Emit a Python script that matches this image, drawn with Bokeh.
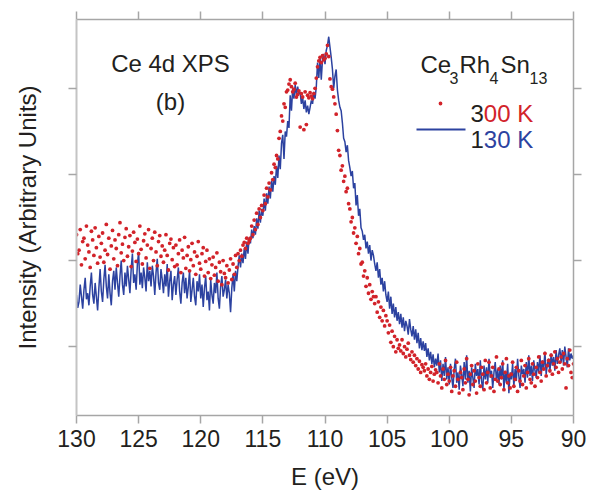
from bokeh.plotting import figure
from bokeh.models import Range1d, LinearAxis, FixedTicker, Label, CustomJSTickFormatter
from bokeh.embed import file_html
from bokeh.resources import INLINE
import numpy as np

# ---------------- data ----------------
E_START = 130.0
E_STEP = 0.1

# 130 K spectrum (blue line), one row per eV from 130 eV downwards
i_130K = [
    1.60, 1.45, 1.52, 1.72, 1.58, 1.44, 1.66, 1.80, 1.55, 1.62,
    1.48, 1.70, 1.86, 1.60, 1.50, 1.74, 1.58, 1.42, 1.68, 1.90,
    1.64, 1.52, 1.78, 1.95, 1.70, 1.56, 1.84, 1.62, 1.48, 1.76,
    1.88, 1.66, 1.92, 1.74, 1.58, 1.82, 2.00, 1.72, 1.60, 1.86,
    1.70, 1.94, 1.78, 1.62, 1.90, 2.08, 1.74, 1.84, 1.66, 1.96,
    2.10, 1.72, 1.86, 1.68, 1.92, 1.80, 1.64, 1.98, 1.76, 1.88,
    1.70, 1.94, 1.82, 1.60, 1.86, 2.02, 1.74, 1.66, 1.90, 1.78,
    1.62, 1.84, 1.70, 1.96, 1.58, 1.76, 1.88, 1.54, 1.72, 1.82,
    1.60, 1.78, 1.92, 1.64, 1.50, 1.74, 1.86, 1.62, 1.80, 1.56,
    1.70, 1.88, 1.52, 1.66, 1.80, 1.58, 1.48, 1.76, 1.64, 1.84,
    1.56, 1.72, 1.46, 1.68, 1.82, 1.54, 1.64, 1.42, 1.78, 1.60,
    1.50, 1.74, 1.62, 1.86, 1.56, 1.44, 1.70, 1.82, 1.58, 1.66,
    1.78, 1.56, 1.72, 1.62, 1.40, 1.68, 1.84, 1.64, 1.88, 1.76,
    1.93, 2.06, 1.92, 2.08, 1.97, 2.14, 2.02, 2.22, 2.08, 2.27,
    2.20, 2.36, 2.26, 2.40, 2.30, 2.49, 2.37, 2.58, 2.44, 2.60,
    2.52, 2.72, 2.58, 2.78, 2.66, 2.86, 2.72, 2.93, 2.80, 2.98,
    2.88, 3.10, 2.96, 3.22, 3.06, 3.36, 3.46, 3.18, 3.50, 3.44,
    3.62, 3.54, 3.92, 3.74, 4.00, 3.88, 4.04, 3.92, 4.02, 3.94,
    3.95, 3.82, 3.90, 3.76, 3.86, 3.72, 3.80, 3.70, 3.78, 3.86,
    3.82, 3.96, 3.88, 4.02, 4.30, 4.12, 4.36, 4.10, 4.34, 4.40,
    4.28, 4.44, 4.50, 4.60, 4.48, 4.36, 4.22, 4.00, 4.14, 4.22,
    3.98, 3.86, 3.78, 3.74, 3.60, 3.42, 3.38, 3.26, 3.34, 3.16,
    3.08, 2.98, 3.04, 2.84, 2.90, 2.64, 2.76, 2.52, 2.60, 2.38,
    2.34, 2.24, 2.30, 2.14, 2.22, 2.08, 2.18, 2.00, 2.12, 2.06,
    1.96, 1.88, 1.98, 1.80, 1.90, 1.72, 1.80, 1.64, 1.76, 1.60,
    1.52, 1.64, 1.44, 1.58, 1.38, 1.50, 1.34, 1.46, 1.30, 1.40,
    1.26, 1.38, 1.22, 1.34, 1.18, 1.30, 1.24, 1.14, 1.32, 1.20,
    1.12, 1.24, 1.08, 1.20, 1.04, 1.16, 0.98, 1.10, 0.96, 1.06,
    0.95, 1.04, 0.88, 0.98, 0.84, 0.94, 0.80, 0.91, 0.76, 0.86,
    0.78, 0.92, 0.70, 0.84, 0.60, 0.80, 0.66, 0.88, 0.62, 0.76,
    0.56, 0.80, 0.64, 0.52, 0.74, 0.86, 0.58, 0.70, 0.50, 0.78,
    0.68, 0.54, 0.82, 0.62, 0.90, 0.58, 0.72, 0.48, 0.76, 0.64,
    0.52, 0.80, 0.66, 0.74, 0.56, 0.84, 0.60, 0.50, 0.78, 0.62,
    0.76, 0.58, 0.86, 0.64, 0.72, 0.52, 0.70, 0.82, 0.60, 0.74,
    0.56, 0.78, 0.62, 0.84, 0.50, 0.72, 0.58, 0.80, 0.46, 0.70,
    0.62, 0.80, 0.54, 0.74, 0.60, 0.86, 0.66, 0.52, 0.78, 0.68,
    0.74, 0.58, 0.82, 0.64, 0.90, 0.66, 0.78, 0.60, 0.84, 0.72,
    0.64, 0.82, 0.70, 0.90, 0.66, 0.84, 0.74, 0.94, 0.68, 0.80,
    0.86, 0.70, 0.92, 0.78, 0.88, 0.72, 0.96, 0.80, 0.90, 0.98,
    0.82, 0.96, 0.78, 1.00, 0.88, 0.76, 0.98, 0.84, 0.92, 0.86,
    0.90,
]

# 300 K spectrum (red dots)
i_300K = [
    2.30, 2.08, 2.12, 2.36, 1.95, 2.22, 2.26, 2.02, 2.40, 2.18,
    2.10, 1.92, 2.34, 2.24, 2.06, 2.38, 2.15, 1.97, 2.28, 2.04,
    2.20, 2.32, 1.98, 2.12, 2.42, 2.07, 2.26, 1.90, 2.17, 2.35,
    2.02, 2.24, 2.14, 1.94, 2.30, 2.44, 2.09, 2.19, 2.00, 2.27,
    2.37, 2.05, 2.16, 2.29, 1.93, 2.11, 2.33, 2.21, 1.99, 2.25,
    2.08, 2.40, 2.13, 1.96, 2.23, 2.31, 2.03, 2.18, 2.36, 1.91,
    2.14, 2.26, 2.00, 2.33, 2.10, 1.94, 2.22, 2.29, 2.05, 2.17,
    1.98, 2.12, 2.30, 2.06, 1.89, 2.20, 2.25, 2.01, 2.15, 1.93,
    2.18, 1.95, 2.08, 2.24, 1.86, 2.12, 2.03, 2.27, 1.91, 2.06,
    2.16, 1.88, 2.01, 2.20, 1.94, 2.10, 1.84, 2.05, 2.22, 1.97,
    1.90, 2.08, 2.15, 1.82, 1.99, 2.12, 1.86, 2.02, 1.79, 1.95,
    2.04, 1.83, 1.92, 2.09, 1.76, 1.98, 1.87, 1.72, 2.00, 1.85,
    1.80, 1.94, 1.74, 1.89, 2.02, 1.78, 1.96, 1.84, 2.06, 1.92,
    2.08, 2.00, 2.12, 2.05, 2.18, 2.21, 2.14, 2.26, 2.20, 2.23,
    2.26, 2.40, 2.30, 2.47, 2.36, 2.55, 2.42, 2.60, 2.50, 2.64,
    2.58, 2.76, 2.66, 2.84, 2.74, 2.90, 2.82, 3.02, 2.94, 3.12,
    3.08, 3.22, 3.18, 3.42, 3.50, 3.68, 3.62, 3.82, 3.78, 3.96,
    3.98, 4.05, 4.10, 4.02, 3.96, 3.99, 4.06, 3.90, 3.93, 3.97,
    3.55, 3.94, 3.90, 3.52, 3.96, 3.58, 3.92, 3.89, 3.95, 3.91,
    3.88, 3.94, 4.00, 4.12, 4.25, 4.32, 4.36, 4.30, 4.38, 4.33,
    4.35, 4.40, 4.50, 4.37, 4.11, 4.02, 3.99, 3.90, 3.82, 3.70,
    3.51, 3.28, 3.22, 3.05, 3.10, 2.92, 2.98, 2.80, 2.84, 2.66,
    2.60, 2.45, 2.50, 2.32, 2.38, 2.20, 2.28, 2.08, 2.14, 1.96,
    1.98, 1.82, 1.88, 1.70, 1.80, 1.62, 1.72, 1.55, 1.64, 1.58,
    1.50, 1.58, 1.40, 1.52, 1.34, 1.46, 1.30, 1.42, 1.24, 1.36,
    1.30, 1.16, 1.25, 1.05, 1.18, 1.00, 1.12, 0.94, 1.08, 0.98,
    1.02, 0.95, 1.08, 0.92, 1.00, 0.88, 0.97, 1.04, 0.90, 0.85,
    0.94, 0.82, 0.90, 0.78, 0.86, 0.74, 0.83, 0.70, 0.79, 0.76,
    0.72, 0.80, 0.66, 0.74, 0.62, 0.70, 0.77, 0.60, 0.68, 0.73,
    0.70, 0.58, 0.80, 0.66, 0.52, 0.74, 0.62, 0.84, 0.56, 0.68,
    0.60, 0.76, 0.48, 0.66, 0.72, 0.54, 0.82, 0.62, 0.46, 0.70,
    0.64, 0.50, 0.74, 0.58, 0.86, 0.62, 0.44, 0.68, 0.78, 0.56,
    0.72, 0.60, 0.46, 0.80, 0.64, 0.54, 0.76, 0.68, 0.50, 0.84,
    0.58, 0.70, 0.82, 0.52, 0.66, 0.76, 0.48, 0.62, 0.88, 0.60,
    0.74, 0.56, 0.64, 0.80, 0.50, 0.70, 0.86, 0.58, 0.66, 0.52,
    0.68, 0.82, 0.54, 0.62, 0.76, 0.48, 0.72, 0.60, 0.84, 0.56,
    0.66, 0.78, 0.52, 0.70, 0.86, 0.62, 0.58, 0.80, 0.68, 0.54,
    0.76, 0.64, 0.88, 0.70, 0.60, 0.82, 0.74, 0.92, 0.66, 0.78,
    0.84, 0.72, 0.90, 0.68, 0.80, 0.94, 0.76, 0.86, 0.70, 0.82,
    0.88, 0.74, 0.92, 0.80, 0.52, 0.86, 0.78, 0.96, 0.70, 0.64,
    0.80,
]

x_ticks = [130, 125, 120, 115, 110, 105, 100, 95, 90]
y_ticks = [1, 2, 3, 4]

e_130K = E_START - E_STEP * np.arange(len(i_130K))
e_300K = E_START - E_STEP * np.arange(len(i_300K))

# ---------------- style ----------------
FONT = "Liberation Sans"
TXT = "#231f20"
RED = "#d2232a"
BLUE = "#2c42a0"
AXC = "#a6a6a6"

X0, X1 = 130, 90
Y0, Y1 = 0.2, 4.8
FL, FR, FT, FB = 76, 573, 19, 415  # frame edges in px


def px_x(px):
    return X0 + (px - FL) * (X1 - X0) / (FR - FL)


def px_y(py):
    return Y1 - (py - FT) * (Y1 - Y0) / (FB - FT)


p = figure(width=593, height=492, x_range=Range1d(X0, X1), y_range=Range1d(Y0, Y1),
           output_backend="svg", toolbar_location=None,
           min_border_left=FL, min_border_right=593 - FR,
           min_border_top=FT, min_border_bottom=492 - FB)
p.grid.visible = False
p.outline_line_color = None
p.background_fill_color = "white"
p.border_fill_color = "white"

empty = CustomJSTickFormatter(code="return ''")

xa = p.xaxis[0]
xa.ticker = FixedTicker(ticks=x_ticks)
xa.major_label_text_font = FONT
xa.major_label_text_font_size = "23px"
xa.major_label_text_color = TXT
xa.major_label_standoff = 6
xa.axis_label = "E (eV)"
xa.axis_label_text_font = FONT
xa.axis_label_text_font_size = "24px"
xa.axis_label_text_font_style = "normal"
xa.axis_label_text_color = TXT
xa.axis_label_standoff = 13

ya = p.yaxis[0]
ya.ticker = FixedTicker(ticks=y_ticks)
ya.formatter = empty
ya.major_label_standoff = 0
ya.axis_label = "Intensity (Arbitrary Units)"
ya.axis_label_text_font = FONT
ya.axis_label_text_font_size = "24px"
ya.axis_label_text_font_style = "normal"
ya.axis_label_text_color = TXT
ya.axis_label_standoff = 28

top = LinearAxis(ticker=FixedTicker(ticks=x_ticks), formatter=empty, major_label_standoff=0)
right = LinearAxis(ticker=FixedTicker(ticks=y_ticks), formatter=empty, major_label_standoff=0)
p.add_layout(top, "above")
p.add_layout(right, "right")

for ax in [xa, ya, top, right]:
    ax.axis_line_color = AXC
    ax.axis_line_width = 1.5
    ax.major_tick_line_color = AXC
    ax.major_tick_line_width = 1.5
    ax.major_tick_out = 8
    ax.major_tick_in = 0
    ax.minor_tick_out = 0
    ax.minor_tick_in = 0
ya.axis_line_color = "#c4c4c4"
ya.axis_line_width = 2

p.line(e_130K, i_130K, line_color=BLUE, line_width=1.5)
p.scatter(e_300K, i_300K, size=3.8, fill_color=RED, line_color=None)


def lab(text, px, py, size="24px", color=TXT, align="left"):
    p.add_layout(Label(x=px_x(px), y=px_y(py), text=text, text_font=FONT,
                       text_font_size=size, text_color=color, text_align=align,
                       text_baseline="alphabetic"))


lab("Ce 4d XPS", 170, 63, align="center")
lab("(b)", 170, 101, align="center")

# formula Ce3Rh4Sn13
lab("Ce", 420, 64)
lab("3", 449, 77, size="16px")
lab("Rh", 459, 64)
lab("4", 489, 77, size="16px")
lab("Sn", 500, 64)
lab("13", 529, 77, size="16px")

# legend
p.scatter([px_x(440)], [px_y(103)], size=3.8, fill_color=RED, line_color=None)
p.line([px_x(416), px_x(465)], [px_y(129), px_y(129)], line_color=BLUE, line_width=2)
lab("3", 470, 113)
lab("00 K", 483.3, 113, color=RED)
lab("1", 470, 139)
lab("30 K", 483.3, 139, color=BLUE)

open("out.html", "w").write(file_html(p, INLINE))
